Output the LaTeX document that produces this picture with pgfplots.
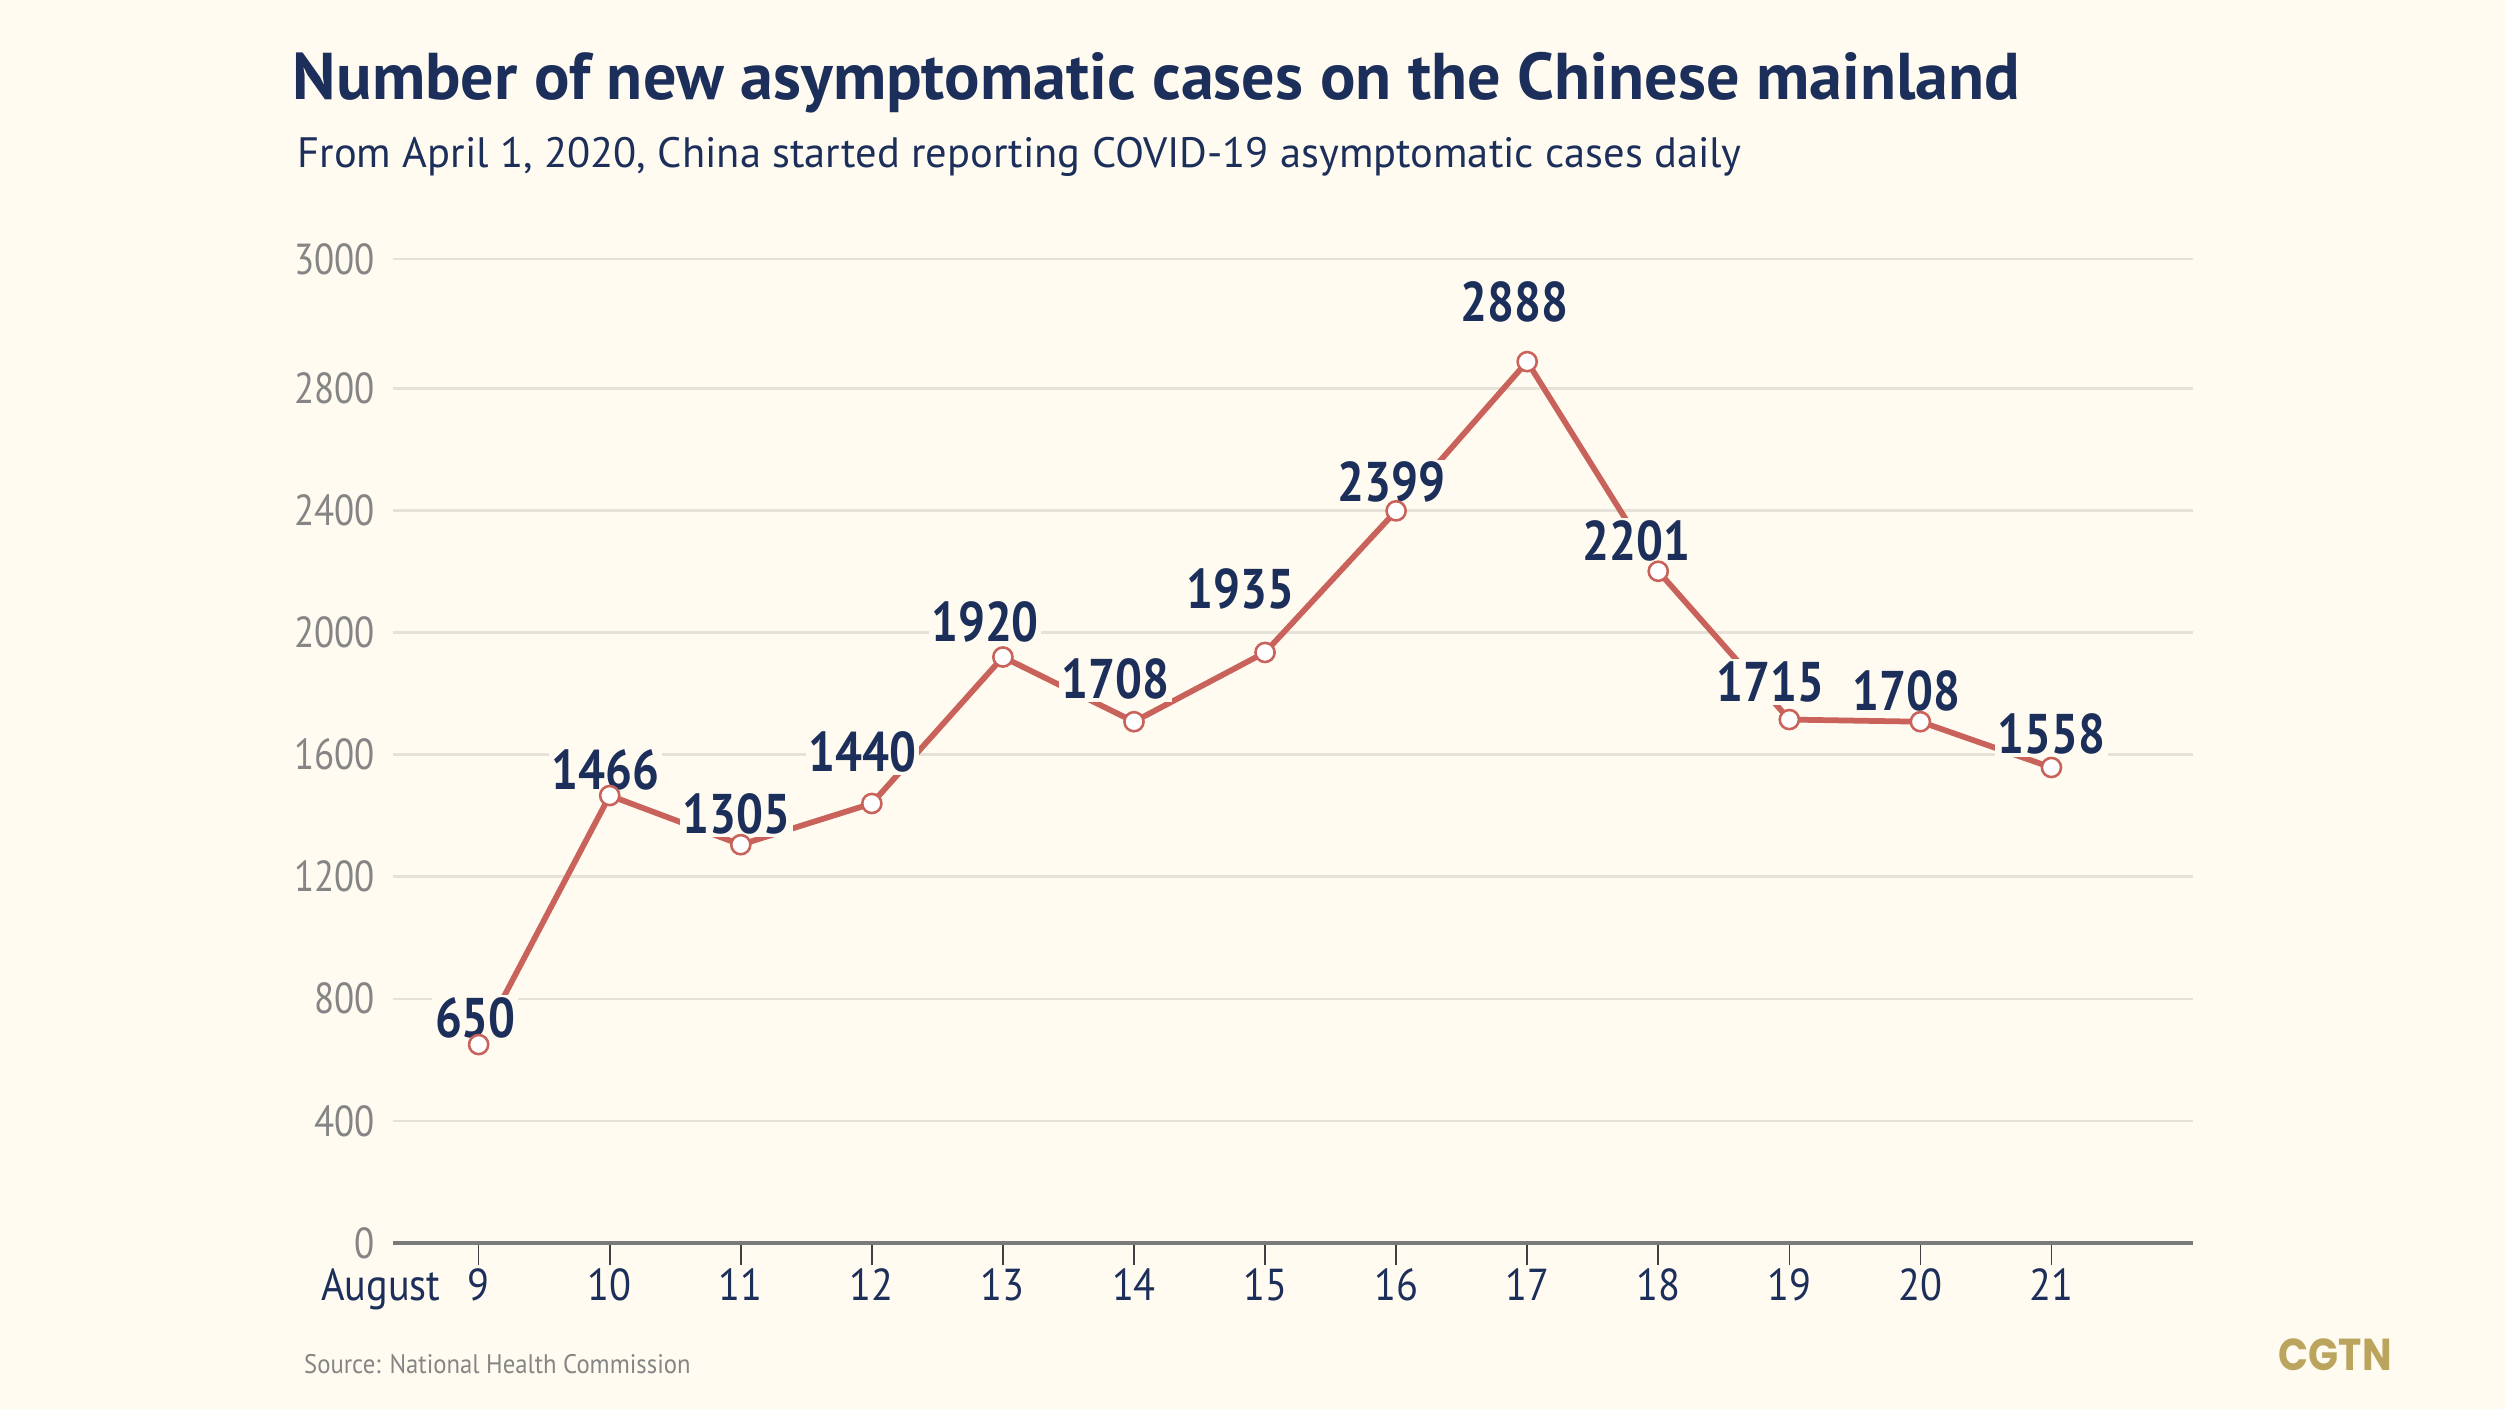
\documentclass[border=0pt]{standalone}
\usepackage{fontspec}
\usepackage{pgfplots}
\pgfplotsset{compat=1.18}
\usepackage{pgfplotstable}

\setmainfont{PT Sans}
\newfontfamily\numfont{PT Sans}[FakeStretch=0.85]
\newfontfamily\labfont{PT Sans}[FakeStretch=0.9]
\newfontfamily\srcfont{PT Sans}[FakeStretch=0.92]
\newfontfamily\logofam{Poppins}[FakeStretch=0.88]

\definecolor{bg}{HTML}{FFFBF0}
\definecolor{navy}{HTML}{1C2E5A}
\definecolor{tickgray}{HTML}{858585}
\definecolor{gridc}{HTML}{E6E2D7}
\definecolor{axisgray}{HTML}{7A7A7A}
\definecolor{linered}{HTML}{C9625A}
\definecolor{gold}{HTML}{BBA55E}

% new asymptomatic cases, August 9-21 (dx, dy: label offsets in bp)
\pgfplotstableread{
x  y    dx     dy     lbl
9  650  -1     8.25   650
10 1466 -1.45  8.0    1466
11 1305 -1.3   9.7    1305
12 1440 -2.85  16.0   1440
13 1920 -5.6   10.85  1920
14 1708 -5.9   13.4   1708
15 1935 -7.8   19.8   1935
16 2399 -1.4   8.9    2399
17 2888 -4     18.55  2888
18 2201 -6.9   9.55   2201
19 1715 -5.85  11.85  1715
20 1708 -4.25  9.55   1708
21 1558 0      10.4   1558
}\cases

\begin{document}
\begin{tikzpicture}
\fill[bg] (0,0) rectangle (784bp,441bp);

\node[anchor=base west, inner sep=0pt, text=navy,
  font=\bfseries\fontsize{20.7bp}{24bp}\selectfont] at (91.5bp,410bp)
  {Number of new asymptomatic cases on the Chinese mainland};
\node[anchor=base west, inner sep=0pt, text=navy,
  font=\fontsize{13.3bp}{15bp}\selectfont] at (93bp,388.5bp)
  {From April 1, 2020, China started reporting COVID-19 asymptomatic cases daily};

\begin{axis}[
    at={(122.85bp,52bp)}, anchor=south west,
    scale only axis, width=563.5bp, height=308bp,
    xmin=8.343, xmax=22.08, ymin=0, ymax=3225,
    axis x line*=bottom, axis y line*=left,
    x axis line style={draw=axisgray, line width=1bp, -},
    y axis line style={draw=none},
    xtick={9,...,21},
    ytick={0,400,800,1200,1600,2000,2400,2800,3225},
    yticklabels={0,400,800,1200,1600,2000,2400,2800,3000},
    ymajorgrids, grid style={draw=gridc, line width=0.8bp},
    tick align=outside, major tick length=6.8bp,
    xtick style={draw=black!75, line width=0.5bp},
    ytick style={draw=none},
    /pgf/number format/assume math mode=true,
    xticklabel style={font=\labfont\fontsize{14bp}{15bp}\selectfont, text=navy,
      anchor=base, inner sep=0pt, yshift=-11.2bp},
    yticklabel style={font=\numfont\fontsize{13.6bp}{15bp}\selectfont, text=tickgray,
      anchor=east, inner sep=0pt, xshift=1.45bp},
    clip=false,
]
\addplot[draw=linered, line width=1.8bp, mark=none,
    visualization depends on={\thisrow{dx}\as\dx},
    visualization depends on={\thisrow{dy}\as\dy},
    point meta=explicit symbolic,
    nodes near coords,
    nodes near coords style={font=\numfont\bfseries\fontsize{17.5bp}{19bp}\selectfont,
      text=navy, fill=bg, inner sep=0.8bp, anchor=center,
      xshift=\dx bp, yshift=\dy bp},
  ] table[x=x, y=y, meta=lbl] {\cases};
\addplot[only marks, mark=*, mark size=3bp,
    mark options={draw=linered, fill=white, line width=0.8bp}]
  table[x=x, y=y] {\cases};
\end{axis}

\node[anchor=base east, inner sep=0pt, text=navy,
  font=\labfont\fontsize{14bp}{15bp}\selectfont] at (138bp,34bp) {August};
\node[anchor=base west, inner sep=0pt, text=tickgray,
  font=\srcfont\fontsize{8.4bp}{9bp}\selectfont] at (95bp,11bp)
  {Source: National Health Commission};
\node[anchor=base west, inner sep=0pt, text=gold,
  font=\logofam\bfseries\fontsize{14bp}{15bp}\selectfont] at (713bp,12bp) {CGTN};
\end{tikzpicture}
\end{document}
